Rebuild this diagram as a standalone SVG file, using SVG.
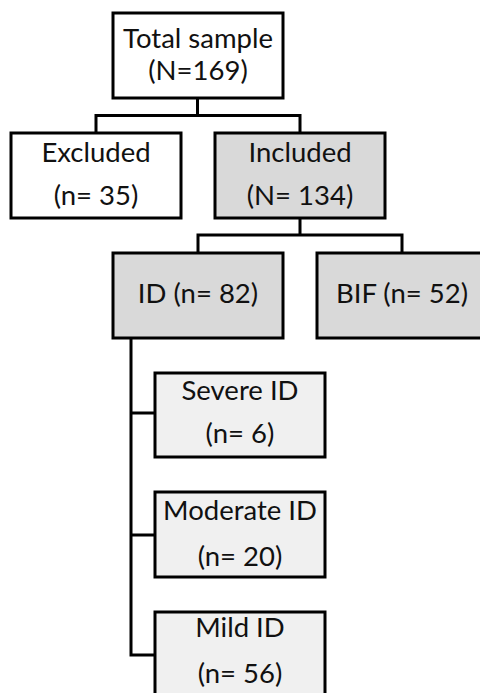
<svg xmlns="http://www.w3.org/2000/svg" width="480" height="693" viewBox="0 0 480 693">
<style>
.box{stroke:#000;stroke-width:3}
.w{fill:#fff}
.g{fill:#d9d9d9}
.l{fill:#f0f0f0}
.t{font-family:Lato,"Open Sans",sans-serif;font-size:27.5px;fill:#111;text-anchor:middle}
.c{fill:none;stroke:#000;stroke-width:3}
</style>
<rect width="480" height="693" fill="#fff"/>
<g id="connectors">
<path class="c" d="M197.5,98 V115.5 M96,133 V115.5 H300 V133"/>
<path class="c" d="M300,218 V235 M198,253 V235 H402 V253"/>
<path class="c" d="M131,338 V655 H155 M131,413 H155 M131,535 H155"/>
</g>
<g id="total">
<rect class="box w" x="113" y="13" width="170" height="85"/>
<text class="t" x="198" y="48">Total sample</text>
<text class="t" x="198" y="80">(N=169)</text>
</g>
<g id="excluded">
<rect class="box w" x="11" y="133" width="170" height="85"/>
<text class="t" x="96" y="162">Excluded</text>
<text class="t" x="96" y="205">(n= 35)</text>
</g>
<g id="included">
<rect class="box g" x="215" y="133" width="170" height="85"/>
<text class="t" x="300" y="162">Included</text>
<text class="t" x="300" y="205">(N= 134)</text>
</g>
<g id="id">
<rect class="box g" x="113" y="253" width="170" height="85"/>
<text class="t" x="198" y="303">ID (n= 82)</text>
</g>
<g id="bif">
<rect class="box g" x="317" y="253" width="170" height="85"/>
<text class="t" x="402" y="303">BIF (n= 52)</text>
</g>
<g id="severe">
<rect class="box l" x="155" y="373" width="170" height="84"/>
<text class="t" x="240" y="400">Severe ID</text>
<text class="t" x="240" y="443">(n= 6)</text>
</g>
<g id="moderate">
<rect class="box l" x="155" y="492" width="170" height="85"/>
<text class="t" x="240" y="520">Moderate ID</text>
<text class="t" x="240" y="566">(n= 20)</text>
</g>
<g id="mild">
<rect class="box l" x="155" y="612" width="170" height="90"/>
<text class="t" x="240" y="637">Mild ID</text>
<text class="t" x="240" y="683">(n= 56)</text>
</g>
</svg>
